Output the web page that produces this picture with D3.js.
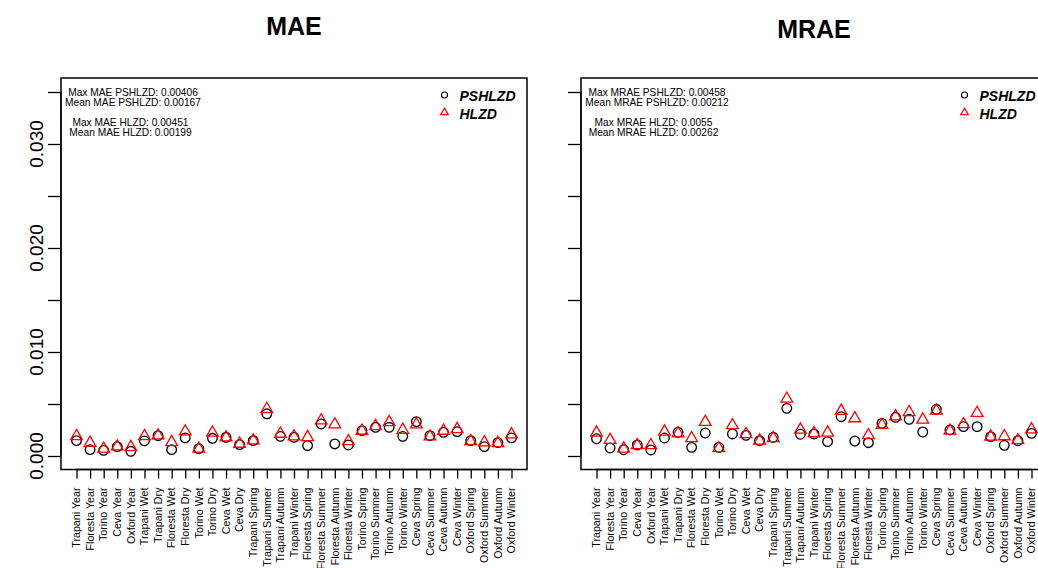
<!DOCTYPE html>
<html>
<head>
<meta charset="utf-8">
<script src="https://cdn.jsdelivr.net/npm/d3@7"></script>
<style>
  html, body { margin: 0; padding: 0; background: #fff; }
  svg { display: block; font-family: "Liberation Sans", Arial, Helvetica, sans-serif; }
</style>
</head>
<body>
<svg id="chart" width="1038" height="568"></svg>
<script>
// Categories: site / period combinations
const categories = [
  "Trapani Year", "Floresta Year", "Torino Year", "Ceva Year", "Oxford Year",
  "Trapani Wet", "Trapani Dry", "Floresta Wet", "Floresta Dry", "Torino Wet",
  "Torino Dry", "Ceva Wet", "Ceva Dry", "Trapani Spring", "Trapani Summer",
  "Trapani Autumn", "Trapani Winter", "Floresta Spring", "Floresta Summer",
  "Floresta Autumn", "Floresta Winter", "Torino Spring", "Torino Summer",
  "Torino Autumn", "Torino Winter", "Ceva Spring", "Ceva Summer", "Ceva Autumn",
  "Ceva Winter", "Oxford Spring", "Oxford Summer", "Oxford Autumn", "Oxford Winter"
];

// MAE per category
const maePSHLZD = [
  0.00148, 0.00061, 0.00054, 0.00090, 0.00045, 0.00145, 0.00196, 0.00061, 0.00174, 0.00071,
  0.00170, 0.00180, 0.00109, 0.00148, 0.00406, 0.00189, 0.00180, 0.00100, 0.00308, 0.00116,
  0.00106, 0.00244, 0.00276, 0.00276, 0.00189, 0.00331, 0.00196, 0.00228, 0.00234, 0.00148,
  0.00090, 0.00129, 0.00174
];
const maeHLZD = [
  0.00190, 0.00126, 0.00069, 0.00091, 0.00085, 0.00190, 0.00197, 0.00133, 0.00235, 0.00069,
  0.00223, 0.00178, 0.00117, 0.00149, 0.00451, 0.00213, 0.00187, 0.00181, 0.00341, 0.00303,
  0.00142, 0.00242, 0.00287, 0.00325, 0.00251, 0.00303, 0.00187, 0.00242, 0.00258, 0.00142,
  0.00130, 0.00123, 0.00207
];

// MRAE per category
const mraePSHLZD = [
  0.00166, 0.00077, 0.00060, 0.00106, 0.00058, 0.00173, 0.00228, 0.00083, 0.00221, 0.00083,
  0.00212, 0.00199, 0.00147, 0.00180, 0.00458, 0.00209, 0.00212, 0.00138, 0.00378, 0.00144,
  0.00128, 0.00314, 0.00372, 0.00353, 0.00231, 0.00449, 0.00250, 0.00282, 0.00282, 0.00186,
  0.00103, 0.00147, 0.00218
];
const mraeHLZD = [
  0.00224, 0.00154, 0.00070, 0.00103, 0.00103, 0.00234, 0.00218, 0.00170, 0.00327, 0.00074,
  0.00295, 0.00209, 0.00147, 0.00170, 0.00550, 0.00253, 0.00218, 0.00224, 0.00433, 0.00362,
  0.00199, 0.00298, 0.00381, 0.00420, 0.00349, 0.00436, 0.00243, 0.00305, 0.00413, 0.00186,
  0.00189, 0.00151, 0.00256
];

// Summary statistics printed in each panel
const maeStats = ["Max MAE PSHLZD: 0.00406", "Mean MAE PSHLZD: 0.00167",
                  "Max MAE HLZD: 0.00451", "Mean MAE HLZD: 0.00199"];
const mraeStats = ["Max MRAE PSHLZD: 0.00458", "Mean MRAE PSHLZD: 0.00212",
                   "Max MRAE HLZD: 0.0055", "Mean MRAE HLZD: 0.00262"];

const seriesNames = ["PSHLZD", "HLZD"];
const yTicks = [0, 0.005, 0.010, 0.015, 0.020, 0.025, 0.030, 0.035];
const yTickLabels = [0, 0.010, 0.020, 0.030];

const svg = d3.select("#chart");
const FONT = "'Liberation Sans', Arial, Helvetica, sans-serif";

// R-style open triangle (pch = 2) centred on (0,0)
function trianglePath(r) {
  const xc = r * Math.sqrt(3) / 2;
  return `M0,${-r}L${xc},${r / 2}L${-xc},${r / 2}Z`;
}

function drawPanel(opts) {
  const { left, width, top, bottom, title, titleY, a, b, stats, statX, showYLabels } = opts;
  const g = svg.append("g");

  const x = d3.scaleLinear().domain([1, categories.length]).range([left + 15.5, left + 450.5]);
  const y = d3.scaleLinear().domain([0, 0.035]).range([456, 92]);

  // Title
  g.append("text")
    .attr("x", left + width / 2).attr("y", titleY)
    .attr("text-anchor", "middle")
    .style("font-family", FONT).style("font-weight", "bold").style("font-size", "25px")
    .text(title);

  // Plot frame
  g.append("rect")
    .attr("x", left).attr("y", top)
    .attr("width", width).attr("height", bottom - top)
    .attr("fill", "none").attr("stroke", "#000").attr("stroke-width", 1.5);

  // Y axis
  const yAxis = d3.axisLeft(y).tickValues(yTicks).tickSize(13).tickFormat("");
  const ya = g.append("g").attr("transform", `translate(${left},0)`).call(yAxis);
  ya.select(".domain").remove();
  ya.selectAll(".tick line").attr("stroke", "#000").attr("stroke-width", 1.3);
  g.append("line")
    .attr("x1", left).attr("x2", left).attr("y1", y(0.035)).attr("y2", y(0))
    .attr("stroke", "#000").attr("stroke-width", 1.3);

  if (showYLabels) {
    g.selectAll(".ylab").data(yTickLabels).enter().append("text")
      .attr("class", "ylab")
      .attr("transform", d => `translate(${left - 25},${y(d)}) rotate(-90)`)
      .attr("text-anchor", "middle").attr("dy", "0.35em")
      .style("font-family", FONT).style("font-size", "19px")
      .text(d => d3.format(".3f")(d));
  }

  // X axis ticks and rotated category labels
  const xAxis = d3.axisBottom(x).tickValues(d3.range(1, categories.length + 1)).tickSize(9).tickFormat("");
  const xa = g.append("g").attr("transform", `translate(0,${bottom})`).call(xAxis);
  xa.select(".domain").attr("stroke", "#000").attr("stroke-width", 1.3)
    .attr("d", `M${x(1)},0H${x(categories.length)}`);
  xa.selectAll(".tick line").attr("stroke", "#000").attr("stroke-width", 1.3);

  g.selectAll(".xlab").data(categories).enter().append("text")
    .attr("class", "xlab")
    .attr("transform", (d, i) => `translate(${x(i + 1)},${bottom + 18}) rotate(-90)`)
    .attr("text-anchor", "end").attr("dy", "0.35em")
    .style("font-family", FONT).style("font-size", "10.7px")
    .text(d => d);

  // PSHLZD points (open circles)
  g.selectAll(".pt-a").data(a).enter().append("circle")
    .attr("class", "pt-a")
    .attr("cx", (d, i) => x(i + 1)).attr("cy", d => y(d)).attr("r", 4.8)
    .attr("fill", "none").attr("stroke", "#000").attr("stroke-width", 1.3);

  // HLZD points (open red triangles)
  g.selectAll(".pt-b").data(b).enter().append("path")
    .attr("class", "pt-b")
    .attr("transform", (d, i) => `translate(${x(i + 1)},${y(d)})`)
    .attr("d", trianglePath(6.8))
    .attr("fill", "none").attr("stroke", "#ff0000").attr("stroke-width", 1.3);

  // Summary text
  const statY = [95.5, 106, 125.5, 136];
  stats.forEach((s, i) => {
    g.append("text")
      .attr("x", statX[i < 2 ? 0 : 1]).attr("y", statY[i])
      .attr("text-anchor", "middle")
      .style("font-family", FONT).style("font-size", "10.2px")
      .text(s);
  });

  // Legend
  const lx = left + 383.5;
  g.append("circle").attr("cx", lx).attr("cy", 95).attr("r", 3)
    .attr("fill", "none").attr("stroke", "#000").attr("stroke-width", 1.2);
  g.append("path").attr("transform", `translate(${lx},112.5)`).attr("d", trianglePath(4.4))
    .attr("fill", "none").attr("stroke", "#ff0000").attr("stroke-width", 1.2);
  seriesNames.forEach((n, i) => {
    g.append("text")
      .attr("x", lx + 15).attr("y", 100.5 + i * 18)
      .style("font-family", FONT).style("font-weight", "bold").style("font-style", "italic")
      .style("font-size", "14px")
      .text(n);
  });
}

drawPanel({ left: 61, width: 466, top: 78, bottom: 469.5, title: "MAE", titleY: 35,
  a: maePSHLZD, b: maeHLZD, stats: maeStats, statX: [133, 130.5], showYLabels: true });
drawPanel({ left: 581, width: 466, top: 78, bottom: 469.5, title: "MRAE", titleY: 37.5,
  a: mraePSHLZD, b: mraeHLZD, stats: mraeStats, statX: [657, 653.5], showYLabels: false });
</script>
</body>
</html>
